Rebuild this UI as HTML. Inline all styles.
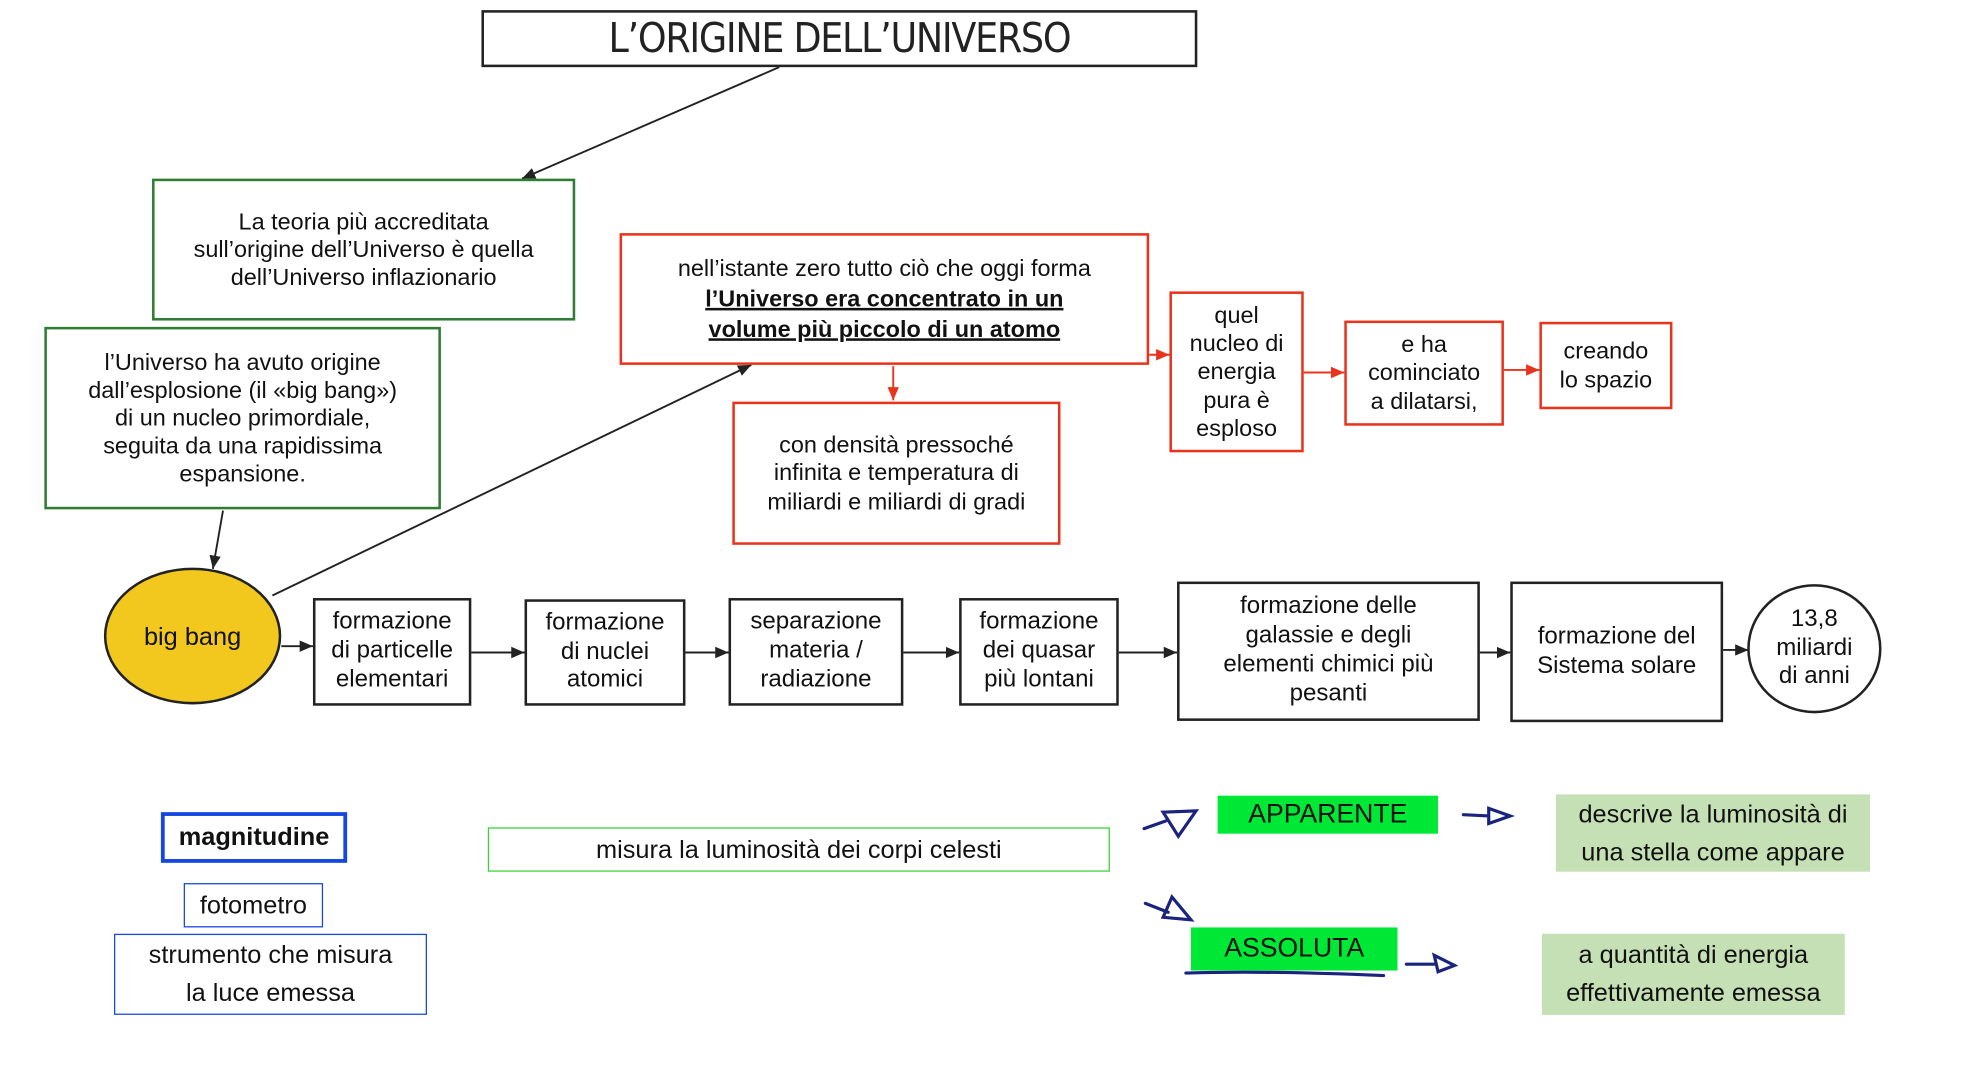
<!DOCTYPE html>
<html><head><meta charset="utf-8"><style>
html,body{margin:0;padding:0;background:#fff;width:1984px;height:1086px;overflow:hidden}
#s{position:absolute;left:0;top:0;width:1552px;height:850px;transform:scale(1.267);transform-origin:0 0;font-family:"Liberation Sans",sans-serif}
.b{position:absolute;box-sizing:border-box;display:flex;align-items:center;justify-content:center;text-align:center;line-height:1.2;color:#111}
.k{border:2px solid #222;font-size:19px}
.g{border:2px solid #2e7d32;font-size:18.5px}
.r{border:2.5px solid #e8341c;font-size:18.5px}
.c{font-family:"DejaVu Sans Condensed","Liberation Sans Narrow","Liberation Sans",sans-serif;font-size:21px;color:#222}
u{text-decoration-thickness:2px}
svg{position:absolute;left:0;top:0}
</style></head><body><div id="s">
<svg width="1552" height="850">
<defs><marker id="a" markerWidth="8" markerHeight="8" refX="7" refY="4" orient="auto"><path d="M0,1 L7,4 L0,7z" fill="#222"/></marker>
<marker id="ar" markerWidth="8" markerHeight="8" refX="7" refY="4" orient="auto"><path d="M0,1 L7,4 L0,7z" fill="#e8341c"/></marker></defs>
<g stroke="#222" stroke-width="1.5" fill="none">
<line x1="615" y1="53" x2="412" y2="141" marker-end="url(#a)"/>
<line x1="176" y1="403" x2="168" y2="449" marker-end="url(#a)"/>
<line x1="215" y1="470" x2="593" y2="288" marker-end="url(#a)"/>
<line x1="222" y1="510" x2="247" y2="510" marker-end="url(#a)"/>
<line x1="372" y1="515" x2="414" y2="515" marker-end="url(#a)"/>
<line x1="541" y1="515" x2="575" y2="515" marker-end="url(#a)"/>
<line x1="713" y1="515" x2="757" y2="515" marker-end="url(#a)"/>
<line x1="883" y1="515" x2="929" y2="515" marker-end="url(#a)"/>
<line x1="1168" y1="515" x2="1192" y2="515" marker-end="url(#a)"/>
<line x1="1360" y1="513" x2="1380" y2="513" marker-end="url(#a)"/>
</g>
<g stroke="#e8341c" stroke-width="1.5">
<line x1="705" y1="289" x2="705" y2="316" marker-end="url(#ar)"/>
<line x1="907" y1="280" x2="923" y2="280" marker-end="url(#ar)"/>
<line x1="1029" y1="294" x2="1061" y2="294" marker-end="url(#ar)"/>
<line x1="1187" y1="292" x2="1215" y2="292" marker-end="url(#ar)"/>
</g>
<ellipse cx="152" cy="502" rx="69" ry="53" fill="#f2c81f" stroke="#222" stroke-width="2"/>
<ellipse cx="1432" cy="512" rx="52" ry="50" fill="#fff" stroke="#222" stroke-width="2"/>
<g stroke="#1a237e" stroke-width="2.5" fill="none" stroke-linecap="round">
<path d="M903,654 L920,648 M918,641 L944,640 L930,660 Z"/>
<path d="M1155,643 L1175,644 M1175,638 L1192,644 L1175,650 Z"/>
<path d="M904,713 L922,720 M925,708 L940,726 L918,724 Z"/>
<path d="M936,768 Q1000,766 1092,770"/>
<path d="M1110,761 L1132,761 M1132,754 L1148,762 L1135,767 Z"/>
</g>
</svg>
<div class="b c" style="left:380px;top:8px;width:565px;height:45px;border:2px solid #222;font-size:32px;letter-spacing:-1px"><div>L’ORIGINE DELL’UNIVERSO</div></div>
<div class="b g" style="left:120px;top:141px;width:334px;height:112px"><div>La teoria più accreditata<br>sull’origine dell’Universo è quella<br>dell’Universo inflazionario</div></div>
<div class="b g" style="left:35px;top:258px;width:313px;height:144px"><div>l’Universo ha avuto origine<br>dall’esplosione (il «big bang»)<br>di un nucleo primordiale,<br>seguita da una rapidissima<br>espansione.</div></div>
<div class="b r" style="left:489px;top:184px;width:418px;height:104px;line-height:1.3"><div>nell’istante zero tutto ciò che oggi forma<br><b><u>l’Universo era concentrato in un</u></b><br><b><u>volume più piccolo di un atomo</u></b></div></div>
<div class="b r" style="left:578px;top:317px;width:259px;height:113px"><div>con densità pressoché<br>infinita e temperatura di<br>miliardi e miliardi di gradi</div></div>
<div class="b r" style="left:923px;top:230px;width:106px;height:127px"><div>quel<br>nucleo di<br>energia<br>pura è<br>esploso</div></div>
<div class="b r" style="left:1061px;top:253px;width:126px;height:83px"><div>e ha<br>cominciato<br>a dilatarsi,</div></div>
<div class="b r" style="left:1215px;top:254px;width:105px;height:69px"><div>creando<br>lo spazio</div></div>
<div class="b" style="left:83px;top:480px;width:138px;height:45px;font-size:20px"><div>big bang</div></div>
<div class="b k" style="left:247px;top:472px;width:125px;height:85px"><div>formazione<br>di particelle<br>elementari</div></div>
<div class="b k" style="left:414px;top:473px;width:127px;height:84px"><div>formazione<br>di nuclei<br>atomici</div></div>
<div class="b k" style="left:575px;top:472px;width:138px;height:85px"><div>separazione<br>materia /<br>radiazione</div></div>
<div class="b k" style="left:757px;top:472px;width:126px;height:85px"><div>formazione<br>dei quasar<br>più lontani</div></div>
<div class="b k" style="left:929px;top:459px;width:239px;height:110px"><div>formazione delle<br>galassie e degli<br>elementi chimici più<br>pesanti</div></div>
<div class="b k" style="left:1192px;top:459px;width:168px;height:111px"><div>formazione del<br>Sistema solare</div></div>
<div class="b" style="left:1380px;top:470px;width:104px;height:84px;font-size:19px"><div>13,8<br>miliardi<br>di anni</div></div>
<div class="b" style="left:127px;top:641px;width:147px;height:40px;border:3px solid #1546e0;font-weight:bold;font-size:20px"><div>magnitudine</div></div>
<div class="b" style="left:145px;top:697px;width:110px;height:35px;border:1px solid #1546e0;font-size:20px"><div>fotometro</div></div>
<div class="b" style="left:90px;top:737px;width:247px;height:64px;border:1px solid #1546e0;font-size:20px;line-height:1.5"><div>strumento che misura<br>la luce emessa</div></div>
<div class="b" style="left:385px;top:653px;width:491px;height:35px;border:1px solid #3ad13a;font-size:20px"><div>misura la luminosità dei corpi celesti</div></div>
<div class="b" style="left:961px;top:628px;width:174px;height:30px;background:#00e836;font-size:21px"><div>APPARENTE</div></div>
<div class="b" style="left:940px;top:732px;width:163px;height:34px;background:#00e836;font-size:21px"><div>ASSOLUTA</div></div>
<div class="b" style="left:1228px;top:627px;width:248px;height:61px;background:#c5e0b4;font-size:20px;line-height:1.5"><div>descrive la luminosità di<br>una stella come appare</div></div>
<div class="b" style="left:1217px;top:737px;width:239px;height:64px;background:#c5e0b4;font-size:20px;line-height:1.5"><div>a quantità di energia<br>effettivamente emessa</div></div>
</div></body></html>
